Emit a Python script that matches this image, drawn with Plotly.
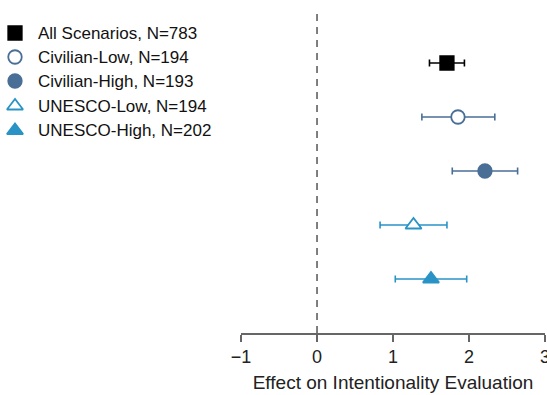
import plotly.graph_objects as go

labels = ["All Scenarios, N=783", "Civilian-Low, N=194", "Civilian-High, N=193",
          "UNESCO-Low, N=194", "UNESCO-High, N=202"]
estimates = [1.71, 1.855, 2.21, 1.27, 1.50]
ci_low = [1.48, 1.38, 1.78, 0.83, 1.03]
ci_high = [1.94, 2.34, 2.64, 1.71, 1.97]
rows = [1, 2, 3, 4, 5]
colors = ["#000000", "#4a6f96", "#4a6f96", "#2a93c6", "#2a93c6"]
symbols = ["square", "circle", "circle", "triangle-up", "triangle-up"]
fills = ["#000000", "#ffffff", "#4a6f96", "#ffffff", "#2a93c6"]
sizes = [13.5, 13.5, 13.5, 14, 14]
x_ticks = [-1, 0, 1, 2, 3]
x_tick_text = ["\u22121", "0", "1", "2", "3"]

W, H = 547, 395
L_PLOT, R_PAD, T, B = 241, 2, 9, 62
PAPER_W = W - R_PAD
FONT = "Liberation Sans, Arial, sans-serif"

fig = go.Figure()
for i in range(len(labels)):
    fig.add_trace(go.Scatter(
        x=[estimates[i]], y=[rows[i]], mode="markers", name=labels[i],
        marker=dict(symbol=symbols[i], size=sizes[i], color=fills[i],
                    line=dict(color=colors[i], width=1.8)),
        error_x=dict(type="data", symmetric=False,
                     array=[ci_high[i] - estimates[i]],
                     arrayminus=[estimates[i] - ci_low[i]],
                     color=colors[i], thickness=1.6, width=3.5),
        showlegend=False, cliponaxis=False,
    ))

# manual legend, drawn in a pixel-scaled helper axis on the left
leg_x_marker, leg_x_text = 15, 36
leg_y = [33, 57, 81, 106, 130.5]
leg_domain_w = 0.4 * PAPER_W
for i in range(len(labels)):
    fig.add_trace(go.Scatter(
        x=[leg_x_marker], y=[leg_y[i]], mode="markers", xaxis="x2", yaxis="y2",
        marker=dict(symbol=symbols[i], size=sizes[i], color=fills[i],
                    line=dict(color=colors[i], width=1.8)),
        showlegend=False, hoverinfo="skip", cliponaxis=False,
    ))
    fig.add_annotation(x=leg_x_text, y=leg_y[i], xref="x2", yref="y2",
                       text=labels[i], showarrow=False, xanchor="left",
                       yanchor="middle",
                       font=dict(size=17, color="#111111", family=FONT))

fig.add_shape(type="line", x0=0, x1=0, y0=0, y1=1, xref="x", yref="paper",
              line=dict(color="#555555", width=1.5, dash="7px,6px"), layer="below")

fig.update_layout(
    width=W, height=H,
    margin=dict(l=0, r=R_PAD, t=T, b=B, autoexpand=False),
    paper_bgcolor="white", plot_bgcolor="white",
    font=dict(family=FONT, color="#222222"),
    showlegend=False,
    xaxis=dict(domain=[L_PLOT / PAPER_W, 1], range=[-1.0005, 3.0005],
               tickvals=x_ticks, ticktext=x_tick_text, automargin=False,
               ticklabeloverflow="allow",
               showgrid=False, zeroline=False, showline=True,
               linecolor="#666666", linewidth=1.5, ticks="outside",
               ticklen=7, tickwidth=1.5, tickcolor="#666666",
               tickfont=dict(size=18, color="#222222"),
               title=dict(text="Effect on Intentionality Evaluation",
                          font=dict(size=19, color="#222222"), standoff=9)),
    yaxis=dict(range=[6, 0], visible=False, showgrid=False, zeroline=False,
               automargin=False),
    xaxis2=dict(domain=[0, 0.4], range=[0, leg_domain_w], visible=False,
                anchor="y2", automargin=False),
    yaxis2=dict(domain=[0, 1], range=[H - B, T], visible=False,
                anchor="x2", automargin=False),
)

fig.write_html(
    "out.html",
    config={"displayModeBar": False},
    post_script="document.body.style.margin='0';document.body.style.overflow='hidden';",
)
